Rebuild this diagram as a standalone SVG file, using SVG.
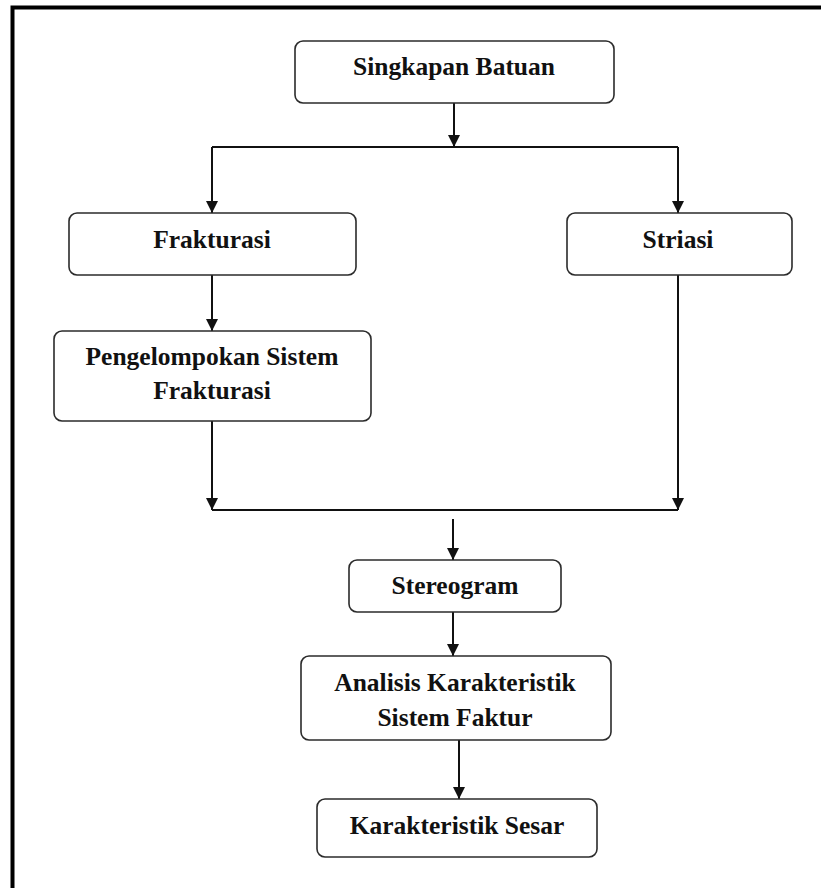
<svg xmlns="http://www.w3.org/2000/svg" width="821" height="888" viewBox="0 0 821 888">
  <style>
    .box { fill: #ffffff; stroke: #2b2b2b; stroke-width: 1.6; }
    .lbl { font-family: "Liberation Serif", "Times New Roman", serif; font-weight: bold; font-size: 25.5px; fill: #111111; text-anchor: middle; }
    .wire { fill: none; stroke: #111111; stroke-width: 2; }
    .frame { fill: none; stroke: #000000; stroke-width: 4; }
  </style>
  <defs>
    <marker id="head" viewBox="0 0 12 12" markerWidth="12" markerHeight="12" refX="12" refY="6" orient="auto" markerUnits="userSpaceOnUse">
      <path d="M0,0 L12,6 L0,12 z" fill="#111111"/>
    </marker>
  </defs>

  <rect width="821" height="888" fill="#ffffff"/>
  <!-- page border (top and left edges) -->
  <path class="frame" d="M12.5,888 V7.5 H821"/>

  <!-- connectors -->
  <g id="connectors">
    <line class="wire" x1="454" y1="103" x2="454" y2="147" marker-end="url(#head)"/>
    <line class="wire" x1="212" y1="147" x2="678" y2="147"/>
    <line class="wire" x1="212" y1="147" x2="212" y2="213" marker-end="url(#head)"/>
    <line class="wire" x1="678" y1="147" x2="678" y2="213" marker-end="url(#head)"/>
    <line class="wire" x1="212" y1="275" x2="212" y2="331" marker-end="url(#head)"/>
    <line class="wire" x1="212" y1="421" x2="212" y2="510" marker-end="url(#head)"/>
    <line class="wire" x1="678" y1="275" x2="678" y2="510" marker-end="url(#head)"/>
    <line class="wire" x1="212" y1="510" x2="678" y2="510"/>
    <line class="wire" x1="453" y1="519" x2="453" y2="560" marker-end="url(#head)"/>
    <line class="wire" x1="453" y1="612" x2="453" y2="656" marker-end="url(#head)"/>
    <line class="wire" x1="459" y1="740" x2="459" y2="799" marker-end="url(#head)"/>
  </g>

  <g id="singkapan-batuan">
    <rect class="box" x="295" y="41" width="319" height="62" rx="8"/>
    <text class="lbl" x="454" y="75">Singkapan Batuan</text>
  </g>

  <g id="frakturasi">
    <rect class="box" x="69" y="213" width="287" height="62" rx="8"/>
    <text class="lbl" x="212" y="248">Frakturasi</text>
  </g>

  <g id="striasi">
    <rect class="box" x="567" y="213" width="225" height="62" rx="8"/>
    <text class="lbl" x="678" y="248">Striasi</text>
  </g>

  <g id="pengelompokan-sistem-frakturasi">
    <rect class="box" x="54" y="331" width="317" height="90" rx="8"/>
    <text class="lbl" x="212" y="365">Pengelompokan Sistem</text>
    <text class="lbl" x="212" y="399">Frakturasi</text>
  </g>

  <g id="stereogram">
    <rect class="box" x="349" y="560" width="212" height="52" rx="8"/>
    <text class="lbl" x="455" y="594">Stereogram</text>
  </g>

  <g id="analisis-karakteristik">
    <rect class="box" x="301" y="656" width="310" height="84" rx="8"/>
    <text class="lbl" x="455" y="691">Analisis Karakteristik</text>
    <text class="lbl" x="455" y="726">Sistem Faktur</text>
  </g>

  <g id="karakteristik-sesar">
    <rect class="box" x="317" y="799" width="280" height="58" rx="8"/>
    <text class="lbl" x="457" y="834">Karakteristik Sesar</text>
  </g>
</svg>
